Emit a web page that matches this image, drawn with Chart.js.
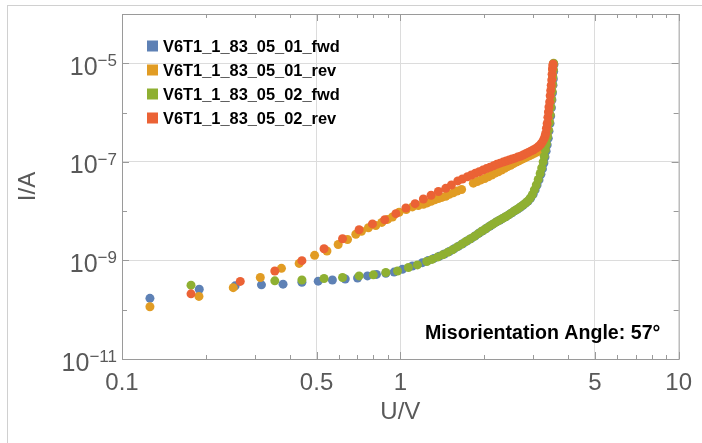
<!DOCTYPE html>
<html>
<head>
<meta charset="utf-8">
<script src="https://cdn.jsdelivr.net/npm/chart.js@4.4.0/dist/chart.umd.min.js"></script>
<style>
  html, body { margin: 0; padding: 0; background: #fff; }
  #wrap { position: relative; width: 702px; height: 443px; overflow: hidden; }
  #border { position: absolute; left: 7px; top: 5px; width: 720px; height: 470px; border: 1px solid #d0d0d0; }
  canvas { position: absolute; left: 0; top: 0; }
</style>
</head>
<body>
<div id="wrap">
  <div id="border"></div>
  <canvas id="myChart" width="702" height="443"></canvas>
</div>
<script>
// series names (legend order)
const seriesNames = ["V6T1_1_83_05_01_fwd", "V6T1_1_83_05_01_rev", "V6T1_1_83_05_02_fwd", "V6T1_1_83_05_02_rev"];
const seriesColors = ["#5E81B5", "#E19C24", "#8FB032", "#EB6235"];

// U in V, I in A
const fwd01U = [0.126, 0.1895, 0.255, 0.317, 0.379, 0.443, 0.507, 0.570, 0.634, 0.702, 0.762, 0.821, 0.887, 0.950, 1.017, 1.105, 1.20, 1.26, 1.32, 1.38, 1.44, 1.50, 1.56, 1.62, 1.68, 1.74, 1.80, 1.86, 1.92, 1.98, 2.04, 2.10, 2.16, 2.22, 2.28, 2.34, 2.40, 2.46, 2.52, 2.58, 2.64, 2.70, 2.76, 2.82, 2.88, 2.94, 3.00, 3.05, 3.10, 3.15, 3.20, 3.24, 3.28, 3.31, 3.34, 3.37, 3.40, 3.42, 3.45, 3.47, 3.49, 3.505, 3.52, 3.535, 3.545, 3.555, 3.565];
const fwd01I = [1.7e-10, 2.6e-10, 3.05e-10, 3.2e-10, 3.3e-10, 3.6e-10, 3.8e-10, 4.0e-10, 4.2e-10, 4.4e-10, 4.85e-10, 5.2e-10, 5.5e-10, 5.8e-10, 6.6e-10, 7.7e-10, 9.0e-10, 1.0e-9, 1.1e-9, 1.21e-9, 1.35e-9, 1.52e-9, 1.72e-9, 1.95e-9, 2.2e-9, 2.5e-9, 2.8e-9, 3.15e-9, 3.6e-9, 4.0e-9, 4.5e-9, 5.0e-9, 5.5e-9, 6.1e-9, 6.6e-9, 7.2e-9, 7.8e-9, 8.5e-9, 9.3e-9, 1.02e-8, 1.1e-8, 1.2e-8, 1.32e-8, 1.45e-8, 1.6e-8, 1.85e-8, 2.2e-8, 2.7e-8, 3.4e-8, 4.3e-8, 5.6e-8, 7.2e-8, 9.5e-8, 1.25e-7, 1.65e-7, 2.2e-7, 3.0e-7, 4.2e-7, 6.0e-7, 8.5e-7, 1.25e-6, 1.8e-6, 2.5e-6, 3.6e-6, 4.8e-6, 6.8e-6, 9.4e-6];

const rev01U = [0.126, 0.189, 0.251, 0.314, 0.374, 0.433, 0.492, 0.545, 0.598, 0.646, 0.692, 0.725, 0.768, 0.816, 0.858, 0.90, 0.937, 0.990, 1.05, 1.105, 1.16, 1.21, 1.25, 1.29, 1.33, 1.37, 1.41, 1.456, 1.50, 1.55, 1.60, 1.66, 1.83, 1.89, 1.95, 2.01, 2.07, 2.13, 2.19, 2.25, 2.31, 2.37, 2.43, 2.49, 2.55, 2.61, 2.67, 2.73, 2.79, 2.85, 2.91, 2.97, 3.03, 3.09, 3.15, 3.20, 3.25, 3.29, 3.33, 3.37, 3.40, 3.43, 3.45, 3.47, 3.485, 3.50, 3.51, 3.525, 3.535, 3.545];
const rev01I = [1.15e-10, 1.86e-10, 2.8e-10, 4.5e-10, 6.9e-10, 8.7e-10, 1.27e-9, 1.55e-9, 2.1e-9, 2.66e-9, 3.4e-9, 3.9e-9, 4.6e-9, 5.1e-9, 5.9e-9, 6.8e-9, 7.6e-9, 9.5e-9, 1.08e-8, 1.22e-8, 1.3e-8, 1.38e-8, 1.47e-8, 1.58e-8, 1.7e-8, 1.8e-8, 1.9e-8, 2.0e-8, 2.2e-8, 2.35e-8, 2.55e-8, 2.75e-8, 3.7e-8, 4.0e-8, 4.3e-8, 4.6e-8, 5.0e-8, 5.4e-8, 5.9e-8, 6.3e-8, 6.8e-8, 7.4e-8, 8.0e-8, 8.5e-8, 9.2e-8, 9.9e-8, 1.05e-7, 1.12e-7, 1.19e-7, 1.26e-7, 1.33e-7, 1.41e-7, 1.49e-7, 1.58e-7, 1.68e-7, 1.8e-7, 2.05e-7, 2.4e-7, 2.9e-7, 3.6e-7, 4.5e-7, 6.5e-7, 9e-7, 1.3e-6, 1.8e-6, 2.6e-6, 3.5e-6, 5.0e-6, 7.1e-6, 9.5e-6];

const fwd02U = [0.177, 0.354, 0.443, 0.532, 0.620, 0.711, 0.800, 0.887, 0.977, 1.069, 1.152, 1.245, 1.30, 1.36, 1.42, 1.48, 1.54, 1.60, 1.66, 1.72, 1.78, 1.84, 1.90, 1.96, 2.02, 2.08, 2.14, 2.20, 2.26, 2.32, 2.38, 2.44, 2.50, 2.56, 2.62, 2.68, 2.74, 2.80, 2.86, 2.92, 2.98, 3.03, 3.08, 3.13, 3.18, 3.22, 3.26, 3.29, 3.32, 3.35, 3.38, 3.40, 3.43, 3.45, 3.47, 3.49, 3.51, 3.52, 3.53, 3.545, 3.555];
const fwd02I = [3.15e-10, 3.85e-10, 4.0e-10, 4.3e-10, 4.5e-10, 4.85e-10, 5.1e-10, 5.7e-10, 6.1e-10, 7.2e-10, 8.1e-10, 9.5e-10, 1.05e-9, 1.17e-9, 1.3e-9, 1.46e-9, 1.65e-9, 1.88e-9, 2.12e-9, 2.42e-9, 2.72e-9, 3.05e-9, 3.45e-9, 3.9e-9, 4.35e-9, 4.85e-9, 5.35e-9, 5.9e-9, 6.45e-9, 7.0e-9, 7.6e-9, 8.3e-9, 9.1e-9, 1.0e-8, 1.08e-8, 1.18e-8, 1.29e-8, 1.42e-8, 1.57e-8, 1.8e-8, 2.15e-8, 2.7e-8, 3.4e-8, 4.4e-8, 5.8e-8, 7.5e-8, 1.0e-7, 1.3e-7, 1.75e-7, 2.3e-7, 3.2e-7, 4.4e-7, 6.2e-7, 9e-7, 1.3e-6, 1.9e-6, 2.7e-6, 3.8e-6, 5.4e-6, 7.5e-6, 1.0e-5];

const rev02U = [0.177, 0.266, 0.354, 0.443, 0.532, 0.620, 0.711, 0.794, 0.879, 0.964, 1.047, 1.13, 1.21, 1.29, 1.37, 1.456, 1.526, 1.609, 1.671, 1.742, 1.80, 1.86, 1.92, 1.98, 2.04, 2.10, 2.16, 2.22, 2.28, 2.34, 2.40, 2.46, 2.52, 2.58, 2.64, 2.70, 2.76, 2.82, 2.88, 2.94, 3.00, 3.05, 3.10, 3.15, 3.20, 3.24, 3.28, 3.31, 3.33, 3.35, 3.37, 3.39, 3.405, 3.42, 3.44, 3.455, 3.47, 3.485, 3.50, 3.51, 3.52, 3.53, 3.54];
const rev02I = [2.1e-10, 3.75e-10, 6.1e-10, 9.9e-10, 1.73e-9, 2.75e-9, 4.2e-9, 5.5e-9, 6.7e-9, 8.9e-9, 1.16e-8, 1.42e-8, 1.76e-8, 2.1e-8, 2.5e-8, 2.9e-8, 3.4e-8, 4.1e-8, 4.5e-8, 5.0e-8, 5.4e-8, 5.9e-8, 6.3e-8, 6.8e-8, 7.3e-8, 7.8e-8, 8.3e-8, 8.9e-8, 9.4e-8, 9.9e-8, 1.04e-7, 1.09e-7, 1.14e-7, 1.19e-7, 1.25e-7, 1.30e-7, 1.38e-7, 1.46e-7, 1.55e-7, 1.65e-7, 1.74e-7, 1.83e-7, 1.95e-7, 2.1e-7, 2.3e-7, 2.55e-7, 2.9e-7, 3.3e-7, 3.8e-7, 4.8e-7, 6.0e-7, 8.0e-7, 1.03e-6, 1.3e-6, 1.64e-6, 2.2e-6, 2.8e-6, 3.6e-6, 4.6e-6, 6.0e-6, 7.7e-6, 8.8e-6, 9.7e-6];

// axis ticks
const xTickValues = [0.1, 0.5, 1, 5, 10];
const xTickLabels = ["0.1", "0.5", "1", "5", "10"];
const xMinorValues = [0.2, 0.3, 0.4, 0.6, 0.7, 0.8, 0.9, 2, 3, 4, 6, 7, 8, 9];
const yTickExps = [-5, -7, -9, -11];
const yMinorExps = [-4, -6, -8, -10];
const annotationText = "Misorientation Angle: 57°";

const FONT = "'Liberation Sans', Arial, Helvetica, sans-serif";
const labelGray = "#595959";
const frameGray = "#9a9a9a";
const gridGray = "#dcdcdc";

function near(v, t) {
  return Math.abs(Math.log10(v) - Math.log10(t)) < 1e-6;
}

function toPoints(us, is) {
  return us.map((u, i) => ({ x: u, y: is[i] }));
}

const allU = [fwd01U, rev01U, fwd02U, rev02U];
const allI = [fwd01I, rev01I, fwd02I, rev02I];

const datasets = seriesNames.map((name, k) => ({
  label: name,
  data: toPoints(allU[k], allI[k]),
  backgroundColor: seriesColors[k],
  borderWidth: 0,
  pointRadius: 4.5,
  pointBorderWidth: 0,
  order: 4 - k, // later series on top
}));

// frame, inner ticks, y labels with exponents, legend and note
const decoPlugin = {
  id: "deco",
  afterDraw(chart) {
    const { ctx, chartArea: a, scales } = chart;
    const x = scales.x, y = scales.y;
    ctx.save();
    ctx.strokeStyle = frameGray;
    ctx.lineWidth = 1;
    ctx.strokeRect(a.left + 0.5, a.top + 0.5, a.right - a.left, a.bottom - a.top);

    ctx.beginPath();
    xTickValues.concat(xMinorValues).forEach((v) => {
      const len = xTickValues.includes(v) ? 7 : 4;
      const px = Math.round(x.getPixelForValue(v)) + 0.5;
      ctx.moveTo(px, a.bottom); ctx.lineTo(px, a.bottom - len);
      ctx.moveTo(px, a.top); ctx.lineTo(px, a.top + len);
    });
    yTickExps.concat(yMinorExps).forEach((e) => {
      const len = yTickExps.includes(e) ? 7 : 5;
      const py = Math.round(y.getPixelForValue(Math.pow(10, e))) + 0.5;
      ctx.moveTo(a.left, py); ctx.lineTo(a.left + len, py);
      ctx.moveTo(a.right, py); ctx.lineTo(a.right - len, py);
    });
    ctx.stroke();

    // y tick labels 10^e
    ctx.fillStyle = labelGray;
    const xr = a.left - 5;
    yTickExps.forEach((e) => {
      const py = y.getPixelForValue(Math.pow(10, e));
      const expTxt = "\u2212" + Math.abs(e);
      ctx.font = "17px " + FONT;
      const w = ctx.measureText(expTxt).width;
      ctx.textAlign = "left";
      ctx.textBaseline = "alphabetic";
      ctx.fillText(expTxt, xr - w, py + 3);
      ctx.font = "25px " + FONT;
      ctx.textAlign = "right";
      ctx.fillText("10", xr - w, py + 11.5);
    });

    // legend
    ctx.font = "bold 16.4px " + FONT;
    ctx.textAlign = "left";
    ctx.textBaseline = "middle";
    chart.data.datasets.forEach((ds, i) => {
      const cy = 46 + i * 24;
      ctx.fillStyle = ds.backgroundColor;
      ctx.fillRect(147, cy - 5.5, 11, 11);
      ctx.fillStyle = "#000";
      ctx.fillText(ds.label, 163, cy + 1);
    });

    // note
    ctx.font = "bold 19.6px " + FONT;
    ctx.textBaseline = "alphabetic";
    ctx.fillStyle = "#000";
    ctx.fillText(annotationText, 425, 339);
    ctx.restore();
  },
};

const chart = new Chart(document.getElementById("myChart"), {
  type: "scatter",
  data: { datasets: datasets },
  options: {
    responsive: false,
    animation: false,
    events: [],
    layout: { padding: { top: 14, right: 22, left: 0, bottom: 0 } },
    plugins: { legend: { display: false }, tooltip: { enabled: false } },
    scales: {
      x: {
        type: "logarithmic",
        min: 0.1,
        max: 10,
        afterFit(s) { s.height = 84; },
        border: { display: false },
        grid: {
          drawTicks: false,
          lineWidth: 1,
          color: (c) => (c.tick && [0.5, 1, 5].some((t) => near(c.tick.value, t)) ? gridGray : "rgba(0,0,0,0)"),
        },
        ticks: {
          autoSkip: false,
          maxRotation: 0,
          minRotation: 0,
          padding: 10,
          color: labelGray,
          font: { family: FONT, size: 24 },
          callback: (v) => {
            const i = xTickValues.findIndex((t) => near(v, t));
            return i >= 0 ? xTickLabels[i] : "";
          },
        },
        title: {
          display: true,
          text: "U/V",
          color: labelGray,
          font: { family: FONT, size: 24 },
          padding: { top: 0, bottom: 16 },
        },
      },
      y: {
        type: "logarithmic",
        min: 1e-11,
        max: 1e-4,
        afterFit(s) { s.width = 122; },
        border: { display: false },
        grid: {
          drawTicks: false,
          lineWidth: 1,
          color: (c) => (c.tick && [1e-5, 1e-7, 1e-9].some((t) => near(c.tick.value, t)) ? gridGray : "rgba(0,0,0,0)"),
        },
        ticks: { display: false },
        title: {
          display: true,
          text: "I/A",
          color: labelGray,
          font: { family: FONT, size: 24 },
          padding: { top: 14, bottom: 0 },
        },
      },
    },
  },
  plugins: [decoPlugin],
});
</script>
</body>
</html>
